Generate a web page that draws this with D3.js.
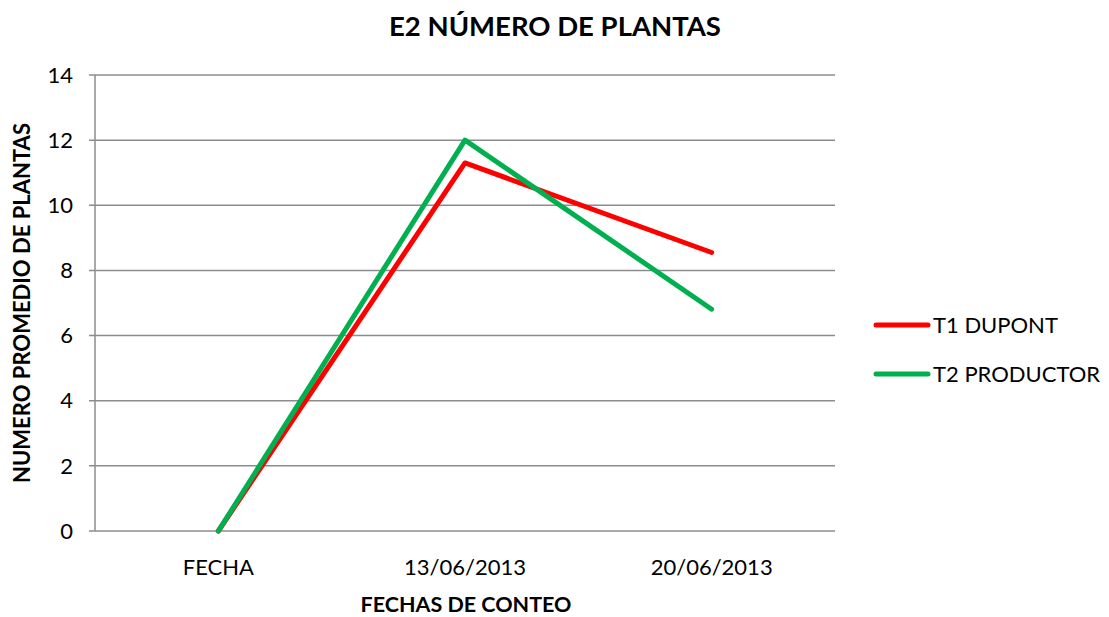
<!DOCTYPE html>
<html><head><meta charset="utf-8">
<script src="https://cdn.jsdelivr.net/npm/d3@7"></script>
<style>body{margin:0;background:#fff}svg{font-family:Lato,"Open Sans",sans-serif}</style>
</head><body><svg id="c" width="1109" height="617"></svg>
<script>
const categories = ["FECHA", "13/06/2013", "20/06/2013"];
const seriesNames = ["T1 DUPONT", "T2 PRODUCTOR"];
const t1Values = [0, 11.3, 8.55];
const t2Values = [0, 12, 6.81];
const yTicks = [0, 2, 4, 6, 8, 10, 12, 14];
const colors = ["#ff0000", "#00b050"];

const svg = d3.select("#c");
const m = {l: 95, r: 835, t: 75, b: 531};
const x = d3.scalePoint().domain(categories).range([m.l, m.r]).padding(0.5);
const y = d3.scaleLinear().domain([0, 14]).range([m.b, m.t]);

// gridlines
svg.append("g").selectAll("line").data(yTicks).join("line")
  .attr("x1", m.l - 6).attr("x2", m.r)
  .attr("y1", d => y(d)).attr("y2", d => y(d))
  .attr("stroke", "#8c8c8c").attr("stroke-width", 1.5);
// y axis line
svg.append("line").attr("x1", m.l).attr("x2", m.l).attr("y1", m.t).attr("y2", m.b)
  .attr("stroke", "#8c8c8c").attr("stroke-width", 1.5);
// y tick labels
svg.append("g").selectAll("text").data(yTicks).join("text")
  .attr("x", m.l - 22).attr("y", d => y(d)).attr("dy", "0.35em")
  .attr("text-anchor", "end").attr("font-size", 22).attr("fill", "#000").text(d => d);
// x tick labels
svg.append("g").selectAll("text").data(categories).join("text")
  .attr("x", d => x(d)).attr("y", 575).attr("text-anchor", "middle")
  .attr("font-size", 22).attr("fill", "#000").text(d => d);

const line = d3.line().x((d, i) => x(categories[i])).y(d => y(d));
[t1Values, t2Values].forEach((vals, i) => {
  svg.append("path").attr("d", line(vals)).attr("fill", "none")
    .attr("stroke", colors[i]).attr("stroke-width", 5)
    .attr("stroke-linecap", "round").attr("stroke-linejoin", "round");
});

// legend
seriesNames.forEach((n, i) => {
  const ly = 325 + i * 49;
  svg.append("line").attr("x1", 876).attr("x2", 928).attr("y1", ly).attr("y2", ly)
    .attr("stroke", colors[i]).attr("stroke-width", 5).attr("stroke-linecap", "round");
  svg.append("text").attr("x", 933).attr("y", ly).attr("dy", "0.35em")
    .attr("font-size", 22).attr("fill", "#000").text(n);
});

// titles
svg.append("text").attr("x", 555).attr("y", 36).attr("text-anchor", "middle")
  .attr("font-size", 27.5).attr("font-weight", "bold").attr("fill", "#000").text("E2 NÚMERO DE PLANTAS");
svg.append("text").attr("x", 466).attr("y", 612).attr("text-anchor", "middle")
  .attr("font-size", 21.5).attr("font-weight", "bold").attr("fill", "#000").text("FECHAS DE CONTEO");
svg.append("text").attr("transform", "translate(30,303) rotate(-90)").attr("text-anchor", "middle")
  .attr("font-size", 22).attr("font-weight", "bold").attr("fill", "#000").text("NUMERO PROMEDIO DE PLANTAS");
</script></body></html>
